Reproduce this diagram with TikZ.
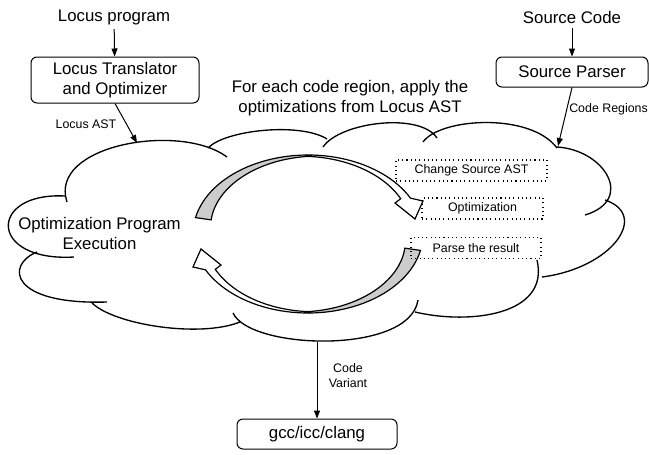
\documentclass[tikz,border=0pt]{standalone}
\usepackage{fontspec}
\setmainfont{Liberation Sans}
\usetikzlibrary{arrows.meta}

\newcommand\bigtxt{\fontsize{12.6pt}{15pt}\selectfont}
\newcommand\smalltxt{\fontsize{9.3pt}{11.2pt}\selectfont}

\tikzset{
  box/.style={draw, rounded corners=4.5pt, line width=0.75pt, align=center, font=\bigtxt},
  stage/.style={draw, line width=0.8pt, dash pattern=on 0.8pt off 2.4pt, minimum height=15.75pt, font=\smalltxt},
  flow/.style={-{Triangle[length=6pt,width=4.5pt]}, line width=0.75pt},
  lbl/.style={font=\smalltxt, align=center},
  cloudline/.style={line width=1pt},
  % half of the loop: twisted ribbon with a head
  cyclepath/.style={insert path={
    plot[domain=168:27, samples=50] ({308+115*cos(\x)}, {234-79*sin(\x)})
    -- (423,201) -- (415,219) -- (395,203)
    -- plot[domain=29:90, samples=30] ({308+(115-(9-7*(\x-29)/61))*cos(\x)}, {234-(79-0.69*(9-7*(\x-29)/61))*sin(\x)})
    -- plot[domain=90:168, samples=40] ({308+(115-(2+14*(\x-90)/78))*cos(\x)}, {234-(79-0.69*(2+14*(\x-90)/78))*sin(\x)})
    -- cycle}}
}

\newcommand\cyclearrow{%
  \fill[white, cyclepath];
  \begin{scope}
    \clip (150,100) rectangle (310,300);
    \fill[black!20, cyclepath];
  \end{scope}
  \draw[line width=0.9pt, line join=miter, cyclepath];
}

\begin{document}
\begin{tikzpicture}[x=0.75pt, y=-0.75pt]
  \useasboundingbox (0,0) rectangle (649,454);

  % inputs
  \node[font=\bigtxt] (lprog) at (114,17) {Locus program};
  \node[box, minimum width=126pt, minimum height=34.5pt] (ltrans) at (115,80) {Locus Translator\\and Optimizer};
  \node[font=\bigtxt] (scode) at (572,17) {Source Code};
  \node[box, minimum width=114pt, minimum height=22.5pt] (sparse) at (572,72) {Source Parser};
  \node[font=\bigtxt, align=center] (foreach) at (350,98) {For each code region, apply the\\optimizations from Locus AST};

  % the cloud
  \draw[cloudline]
    (65,196) .. controls (-12,192) and (-12,262) .. (74,257)
    (37,252) .. controls (5,265) and (10,305) .. (107,302)
    (92,303) .. controls (115,325) and (200,338) .. (240,322)
    (233,313) .. controls (250,350) and (410,355) .. (418,300)
    (415,312) .. controls (470,325) and (550,315) .. (537,260)
    (542,277) .. controls (612,268) and (650,215) .. (605,200)
    (557,147) .. controls (605,150) and (635,200) .. (585,215)
    (423,142) .. controls (440,118) and (530,112) .. (557,148)
    (323,147) .. controls (340,122) and (420,112) .. (437,138)
    (208,148) .. controls (225,130) and (300,122) .. (327,139)
    (67,202) .. controls (48,145) and (180,122) .. (227,157);
  \coordinate (astin) at (137,143);
  \coordinate (regin) at (558,146);
  \coordinate (cvout) at (317,342);

  \node[font=\bigtxt, align=center] (exec) at (99.5,233) {Optimization Program\\Execution};

  % loop arrows
  \cyclearrow
  \begin{scope}[rotate around={180:(308,234)}]
    \cyclearrow
  \end{scope}

  \node[stage, minimum width=113.25pt] (change) at (471.5,170.5) {Change Source AST};
  \node[stage, minimum width=90.75pt] (optim) at (482.5,208.5) {Optimization};
  \node[stage, minimum width=97.5pt] (parse) at (476,248) {Parse the result};

  % output
  \node[box, minimum width=120pt, minimum height=22.5pt] (gcc) at (317,434) {gcc/icc/clang};

  \draw[flow] (lprog) -- (ltrans);
  \draw[flow] (scode) -- (sparse);
  \draw[flow] (ltrans.south) -- (astin);
  \draw[flow] (sparse.south) -- (regin);
  \draw[flow] (cvout) -- (gcc.north);

  \node[lbl] at (86,124) {Locus AST};
  \node[lbl, anchor=west, inner xsep=0pt] at (569,109) {Code Regions};
  \node[lbl] at (348,376) {Code\\Variant};
\end{tikzpicture}
\end{document}
